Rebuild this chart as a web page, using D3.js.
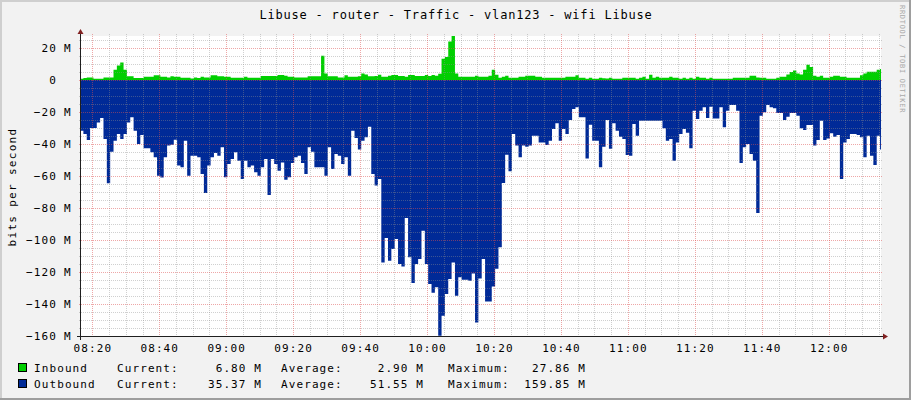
<!DOCTYPE html>
<html>
<head>
<meta charset="utf-8">
<script src="https://cdn.jsdelivr.net/npm/d3@7/dist/d3.min.js"></script>
<style>
  body { margin: 0; background: #f2f2f2; }
  svg text { font-family: "DejaVu Sans Mono", monospace; fill: #000; }
</style>
</head>
<body>
<div id="chart"></div>
<script>
var title = "Libuse - router - Traffic - vlan123 - wifi Libuse";
var yLabel = "bits per second";
var watermark = "RRDTOOL / TOBI OETIKER";

// one sample per minute, values in M (bits per second)
var firstSample = "08:16:20";
var viewStart = "08:16:37";
var viewEnd = "12:15:37";

var inbound = [
  0.8, 1.2, 1.6, 1.6, 0.8, 0.8, 0.8, 1.6, 1.6, 1.6,
  6.4, 9, 11, 6.4, 2.3, 2.3, 1.2, 1.2, 1.2, 2,
  2, 2, 2.9, 2.9, 2, 2, 1.6, 2.3, 2, 2,
  1.4, 1.4, 1.4, 1, 1.6, 1.2, 2, 1.6, 1.6, 2.9,
  2.9, 2.3, 2.3, 2, 2, 1.4, 1.4, 1.4, 1.4, 2,
  1.4, 1.4, 1.4, 1.4, 2.5, 2.5, 2.5, 2.5, 2.5, 3.1,
  3.1, 2.7, 2, 2, 1.6, 1.6, 1.6, 1.6, 2.3, 2.3,
  2.3, 2.3, 15.2, 4.1, 2.3, 2.3, 2.3, 1.6, 1.6, 2.9,
  2, 2, 2, 2.3, 4.1, 3.5, 2.3, 2.3, 2.5, 3.3,
  2, 2, 2.6, 3.1, 3.1, 2.5, 2.5, 2, 3.1, 3.1,
  2.5, 2.5, 2.5, 3.1, 2.5, 3.1, 2.7, 3.9, 13.3, 14.4,
  24, 27.86, 4, 2, 2, 2, 2, 2, 2.6, 2,
  2, 2, 2.6, 6.4, 3.3, 1.4, 2, 2.6, 1.4, 1.4,
  1.4, 2, 2, 2.6, 2.6, 2.6, 2, 2, 1.4, 1.4,
  1.4, 1.4, 1.4, 1.4, 1.4, 2, 2, 2, 2.9, 1.4,
  1.4, 0.8, 1.4, 0.8, 0.8, 1.4, 1.1, 1, 1.4, 0.8,
  0.8, 0.8, 1.4, 1.4, 1.4, 1.4, 0.8, 1.4, 2, 0.8,
  3.3, 1.4, 2, 1.4, 1.4, 1.4, 2, 1.4, 1.4, 0.8,
  1.4, 0.8, 1.4, 0.8, 2, 1.4, 1.4, 0.8, 1.4, 0.8,
  0.8, 0.8, 0.8, 0.8, 0.8, 1.4, 1.4, 1.4, 1.4, 1.4,
  2.7, 2.7, 1.6, 1.4, 1.4, 0.8, 0.8, 0.8, 1.4, 2,
  2, 3.5, 5, 6, 4.1, 3.5, 6.4, 9.5, 8.1, 2.7,
  2, 2.7, 1.4, 1.4, 2, 2.7, 2.7, 2, 2, 1.4,
  1.4, 1.4, 1.4, 3, 4.1, 5.2, 5.2, 5.2, 6.4, 6.8
];

var outbound = [
  31.7, 33.75, 37.5, 30, 30, 26.5, 23.75, 36.9, 64.6, 44.8,
  38, 33.75, 36.9, 33.75, 26.5, 23.3, 31.7, 40, 34.4, 42.7,
  42.7, 45.2, 48.3, 59.8, 61, 48.3, 41, 40.4, 37.3, 53.5,
  54.6, 38, 59.8, 47.3, 47.3, 48.3, 58.75, 70.6, 53.5, 48.3,
  45.6, 47.3, 42, 60.8, 52.5, 49.4, 45.2, 50.4, 61.9, 50.4,
  54.6, 53.5, 57.7, 59.8, 54.6, 49.4, 71.9, 49.4, 52.5, 56.7,
  51.5, 62.3, 60.8, 51.9, 48.3, 47.3, 51.9, 58.75, 42, 44.8,
  54.6, 54.6, 54.6, 59.8, 42, 55.6, 46.3, 47.3, 52.5, 48.3,
  59.8, 31.7, 36.25, 43.5, 38, 35.8, 29.2, 58.75, 66, 61.9,
  114, 98.75, 113, 105.6, 99.4, 115, 116.5, 86.25, 110.8, 126.9,
  115, 111.9, 94.2, 115, 127.5, 133, 129.6, 159.85, 147.3, 133.75,
  124.4, 114, 134.8, 123.3, 124.8, 124.8, 125.4, 121, 151.5, 124,
  111.9, 138.5, 138.5, 129, 118, 104.6, 64.4, 46.7, 57, 33.75,
  41, 48.3, 41, 41.7, 41, 34.8, 34.8, 39, 39, 40.6,
  38, 30.6, 27, 38, 30.6, 33.75, 25, 18.1, 17, 23.3,
  23.3, 49, 28, 38, 38, 54.6, 41.7, 25, 43, 27,
  31.7, 35.4, 36.9, 46.9, 47.3, 27.5, 34.8, 25.4, 25.4, 25.4,
  25.4, 25.4, 25.4, 25.4, 30.2, 38, 36.9, 50.4, 39, 33.75,
  30.6, 33, 42.7, 19.2, 24.4, 19.2, 17, 23.75, 16.7, 24,
  24, 17, 29.6, 19.2, 15.6, 15.6, 19.2, 51.9, 42, 40,
  46.25, 50.4, 83.1, 22.3, 20.2, 15.6, 17, 17.7, 20.6, 20.6,
  25, 22.9, 20.6, 20.6, 22.3, 30.2, 31.25, 28.1, 28.1, 41,
  37.5, 25.4, 37.5, 36.5, 33.3, 35.4, 34.4, 61.9, 39, 36.9,
  33.75, 33.75, 34.4, 35.8, 48.3, 34.8, 47.3, 53.1, 34.8, 43.5
];

var yTicks = [20, 0, -20, -40, -60, -80, -100, -120, -140, -160];
var xTicks = ["08:20", "08:40", "09:00", "09:20", "09:40", "10:00",
              "10:20", "10:40", "11:00", "11:20", "11:40", "12:00"];

var legendNames = ["Inbound", "Outbound"];
var legendColors = ["#00cf00", "#002a97"];
var legendCurrent = ["6.80", "35.37"];
var legendAverage = ["2.90", "51.55"];
var legendMaximum = ["27.86", "159.85"];

var width = 911;
var height = 400;
var plot = { left: 81, right: 881, top: 36, bottom: 336 };

var parseTime = d3.timeParse("%H:%M:%S");
var parseTick = d3.timeParse("%H:%M");

var x = d3.scaleTime()
  .domain([parseTime(viewStart), parseTime(viewEnd)])
  .range([plot.left, plot.right]);

var y = d3.scaleLinear()
  .domain([-160, 27.5])
  .range([plot.bottom, plot.top]);

var t0 = parseTime(firstSample);
function sampleTime(i) { return d3.timeMinute.offset(t0, i); }

function toPoints(values, sign) {
  var pts = values.map(function(v, i) { return { t: sampleTime(i), v: sign * v }; });
  pts.push({ t: sampleTime(values.length), v: sign * values[values.length - 1] });
  return pts;
}

var svg = d3.select("#chart").append("svg")
  .attr("width", width)
  .attr("height", height);

// background + shading
svg.append("rect").attr("width", width).attr("height", height).attr("fill", "#f2f2f2");
svg.append("path").attr("d", "M0,1H910M1,0V399").attr("stroke", "#cfcfcf").attr("stroke-width", 2).attr("fill", "none");
svg.append("path").attr("d", "M0,399H911M910,0V400").attr("stroke", "#9e9e9e").attr("stroke-width", 2).attr("fill", "none");

svg.append("rect")
  .attr("x", plot.left).attr("y", plot.top)
  .attr("width", plot.right - plot.left).attr("height", plot.bottom - plot.top)
  .attr("fill", "#fff");

svg.append("clipPath").attr("id", "plotclip")
  .append("rect")
  .attr("x", plot.left).attr("y", plot.top)
  .attr("width", plot.right - plot.left).attr("height", plot.bottom - plot.top);

var area = d3.area()
  .curve(d3.curveStepAfter)
  .x(function(d) { return x(d.t); })
  .y0(y(0))
  .y1(function(d) { return y(d.v); });

var dataG = svg.append("g").attr("clip-path", "url(#plotclip)");

dataG.append("path")
  .datum(toPoints(inbound, 1))
  .attr("fill", legendColors[0])
  .attr("d", area);

dataG.append("path")
  .datum(toPoints(outbound, -1))
  .attr("fill", legendColors[1])
  .attr("d", area);

// grid on top of the data, like rrdtool
var gridG = svg.append("g");
var minorColor = "rgba(143,143,143,0.42)";
var majorColor = "rgba(222,79,79,0.5)";
var minorY = d3.range(-160, 27.5, 5).filter(function(v) { return v % 20 !== 0; });
var minorX = d3.timeMinute.every(5).range(x.domain()[0], x.domain()[1])
  .filter(function(d) { return d.getMinutes() % 20 !== 0; });
var majorX = xTicks.map(parseTick);

gridG.selectAll("line.hminor").data(minorY).enter().append("line")
  .attr("x1", plot.left - 2).attr("x2", plot.right + 2)
  .attr("y1", function(d) { return Math.round(y(d)) + 0.5; })
  .attr("y2", function(d) { return Math.round(y(d)) + 0.5; })
  .attr("stroke", minorColor).attr("stroke-dasharray", "1,1");

gridG.selectAll("line.vminor").data(minorX).enter().append("line")
  .attr("y1", plot.top - 2).attr("y2", plot.bottom + 2)
  .attr("x1", function(d) { return Math.round(x(d)) + 0.5; })
  .attr("x2", function(d) { return Math.round(x(d)) + 0.5; })
  .attr("stroke", minorColor).attr("stroke-dasharray", "1,1");

gridG.selectAll("line.hmajor").data(yTicks).enter().append("line")
  .attr("x1", plot.left - 2).attr("x2", plot.right + 2)
  .attr("y1", function(d) { return Math.round(y(d)) + 0.5; })
  .attr("y2", function(d) { return Math.round(y(d)) + 0.5; })
  .attr("stroke", majorColor).attr("stroke-dasharray", "1,1");

gridG.selectAll("line.vmajor").data(majorX).enter().append("line")
  .attr("y1", plot.top - 2).attr("y2", plot.bottom + 2)
  .attr("x1", function(d) { return Math.round(x(d)) + 0.5; })
  .attr("x2", function(d) { return Math.round(x(d)) + 0.5; })
  .attr("stroke", majorColor).attr("stroke-dasharray", "1,1");

// axes with arrows
var axisColor = "#1f1f1f";
var arrowColor = "#802020";
svg.append("line")
  .attr("x1", plot.left - 4).attr("x2", plot.right + 3)
  .attr("y1", plot.bottom + 0.5).attr("y2", plot.bottom + 0.5)
  .attr("stroke", axisColor);
svg.append("line")
  .attr("x1", plot.left - 0.5).attr("x2", plot.left - 0.5)
  .attr("y1", plot.bottom + 4).attr("y2", plot.top - 3)
  .attr("stroke", axisColor);
svg.append("path")
  .attr("d", "M" + (plot.right + 2) + "," + (plot.bottom - 2.5) + "L" + (plot.right + 7) + "," + (plot.bottom + 0.5) +
             "L" + (plot.right + 2) + "," + (plot.bottom + 3.5) + "Z")
  .attr("fill", arrowColor);
svg.append("path")
  .attr("d", "M" + (plot.left - 3.5) + "," + (plot.top - 2) + "L" + (plot.left - 0.5) + "," + (plot.top - 7) +
             "L" + (plot.left + 2.5) + "," + (plot.top - 2) + "Z")
  .attr("fill", arrowColor);

// y tick labels: number then unit
var yLab = svg.append("g").style("font-size", "11px").style("letter-spacing", "1.1px");
yLab.selectAll("text.num").data(yTicks).enter().append("text")
  .attr("x", 57)
  .attr("y", function(d) { return y(d) + 4; })
  .attr("text-anchor", "end")
  .text(function(d) { return d3.format("d")(d).replace("-", "- ").replace("- 1", "-1"); });
yLab.selectAll("text.unit").data(yTicks.filter(function(d) { return d !== 0; })).enter().append("text")
  .attr("x", 64)
  .attr("y", function(d) { return y(d) + 4; })
  .text("M");

// x tick labels
svg.append("g").style("font-size", "11px").style("letter-spacing", "1.1px")
  .selectAll("text").data(xTicks).enter().append("text")
  .attr("x", function(d) { return x(parseTick(d)) + 0.5; })
  .attr("y", 352)
  .attr("text-anchor", "middle")
  .text(function(d) { return d; });

// title
svg.append("text")
  .attr("x", 456).attr("y", 19)
  .attr("text-anchor", "middle")
  .style("font-size", "12px").style("letter-spacing", "0.8px")
  .text(title);

// vertical axis label
svg.append("text")
  .attr("transform", "translate(16,187) rotate(-90)")
  .attr("text-anchor", "middle")
  .style("font-size", "11px").style("letter-spacing", "1.3px")
  .text(yLabel);

// watermark
svg.append("text")
  .attr("transform", "translate(900,5) rotate(90)")
  .style("font-size", "7px").style("letter-spacing", "0.7px")
  .style("fill", "#a8a8a8")
  .text(watermark);

// legend
var legend = svg.append("g").style("font-size", "11px").style("letter-spacing", "1.1px");
var rows = legend.selectAll("g").data(legendNames).enter().append("g")
  .attr("transform", function(d, i) { return "translate(0," + (372 + i * 16) + ")"; });
rows.append("rect")
  .attr("x", 18.5).attr("y", -8.5).attr("width", 8).attr("height", 8)
  .attr("fill", function(d, i) { return legendColors[i]; })
  .attr("stroke", "#000").attr("stroke-width", 1);
rows.append("text").attr("x", 34).text(function(d) { return d; });
rows.append("text").attr("x", 117).text("Current:");
rows.append("text").attr("x", 262).attr("text-anchor", "end")
  .text(function(d, i) { return legendCurrent[i] + " M"; });
rows.append("text").attr("x", 281).text("Average:");
rows.append("text").attr("x", 424).attr("text-anchor", "end")
  .text(function(d, i) { return legendAverage[i] + " M"; });
rows.append("text").attr("x", 448).text("Maximum:");
rows.append("text").attr("x", 586).attr("text-anchor", "end")
  .text(function(d, i) { return legendMaximum[i] + " M"; });
</script>
</body>
</html>
